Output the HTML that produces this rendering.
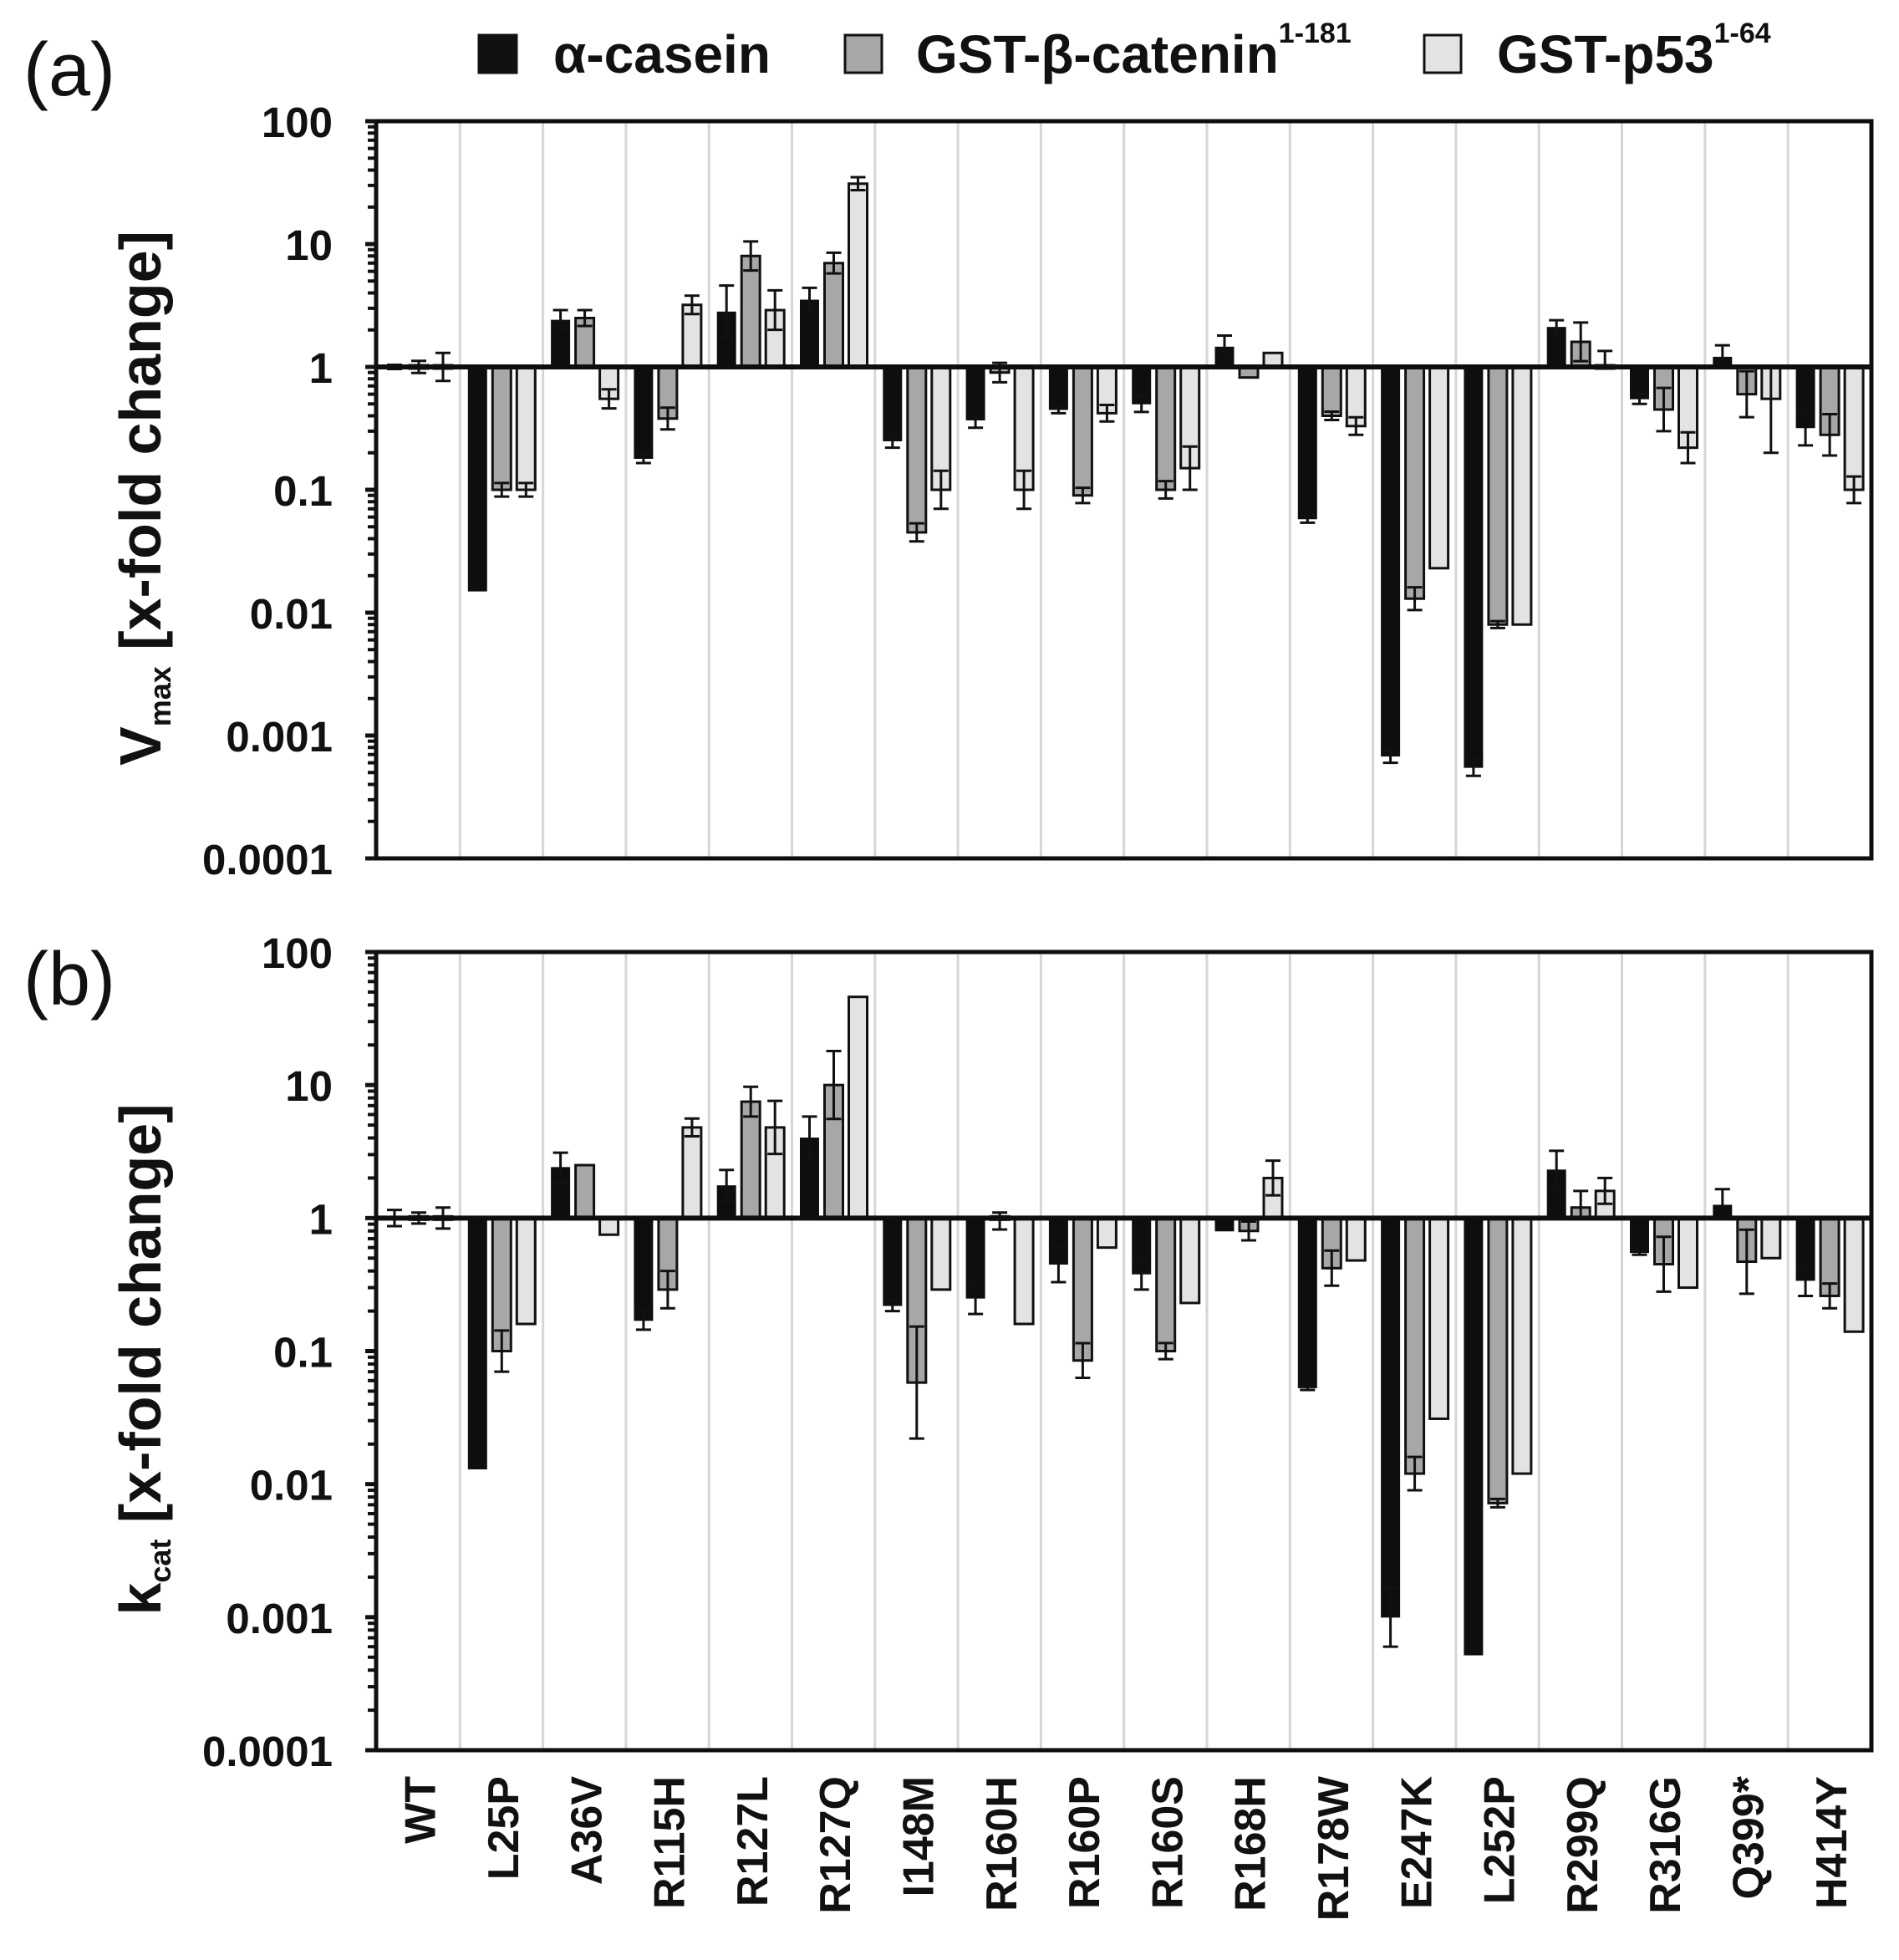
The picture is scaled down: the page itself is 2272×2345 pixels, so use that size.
<!DOCTYPE html>
<html><head><meta charset="utf-8"><style>
html,body{margin:0;padding:0;background:#fff;}
svg{display:block;font-family:"Liberation Sans",Arial,sans-serif;}
</style></head><body>
<svg id="fig" width="2272" height="2345" viewBox="0 0 2272 2345" xmlns="http://www.w3.org/2000/svg">
<g id="legend">
  <g>
    <rect x="573" y="42" width="45" height="45" fill="#111" stroke="#111" stroke-width="3"/>
    <text x="662" y="87" font-size="64" font-weight="bold" fill="#111">α-casein</text>
  </g>
  <g>
    <rect x="1011" y="42" width="44" height="45" fill="#a5a7a9" stroke="#111" stroke-width="3"/>
    <text x="1096" y="87" font-size="64" font-weight="bold" fill="#111">GST-β-catenin<tspan font-size="34" dy="-36">1-181</tspan></text>
  </g>
  <g>
    <rect x="1704" y="42" width="44" height="45" fill="#e2e3e5" stroke="#111" stroke-width="3"/>
    <text x="1791" y="87" font-size="64" font-weight="bold" fill="#111">GST-p53<tspan font-size="34" dy="-36">1-64</tspan></text>
  </g>
</g>
<g id="panelA"></g>
<g id="panelB"></g>
<g id="xlabels"></g>
</svg>
<script>
const categories = ["WT","L25P","A36V","R115H","R127L","R127Q","I148M","R160H","R160P","R160S","R168H","R178W","E247K","L252P","R299Q","R316G","Q399*","H414Y"];
const seriesNames = ["casein","catenin","p53"];
// Panel (a) Vmax values
const vmaxCasein  = [1,0.015,2.4,0.18,2.8,3.5,0.25,0.37,0.45,0.5,1.45,0.058,0.00068,0.00055,2.1,0.55,1.2,0.32];
const vmaxCatenin = [1,0.1,2.5,0.38,8,7,0.045,0.9,0.09,0.1,0.82,0.4,0.013,0.008,1.6,0.45,0.6,0.28];
const vmaxP53     = [1,0.1,0.55,3.2,2.9,31,0.1,0.1,0.42,0.15,1.3,0.33,0.023,0.008,1.05,0.22,0.55,0.1];
const vmaxCaseinErr  = [1.04,0.015,2.9,0.165,4.6,4.4,0.22,0.32,0.42,0.43,1.8,0.054,0.0006,0.00047,2.4,0.5,1.5,0.23];
const vmaxCateninErr = [1.12,0.088,2.9,0.31,10.5,8.5,0.038,1.08,0.078,0.085,0.82,0.37,0.0105,0.0075,2.3,0.3,0.39,0.19];
const vmaxP53Err     = [1.3,0.088,0.46,3.8,4.2,35,0.07,0.07,0.36,0.1,1.3,0.28,0.023,0.008,1.35,0.165,0.2,0.078];
// Panel (b) kcat values
const kcatCasein  = [1,0.013,2.4,0.17,1.75,4.0,0.22,0.25,0.45,0.38,0.8,0.053,0.001,0.00052,2.3,0.55,1.25,0.34];
const kcatCatenin = [1,0.1,2.5,0.29,7.5,10,0.058,0.95,0.085,0.1,0.8,0.42,0.012,0.0072,1.2,0.45,0.47,0.26];
const kcatP53     = [1,0.16,0.75,4.8,4.8,46,0.29,0.16,0.6,0.23,2.0,0.48,0.031,0.012,1.6,0.3,0.5,0.14];
const kcatCaseinErr  = [1.15,0.013,3.1,0.145,2.3,5.8,0.2,0.19,0.33,0.29,0.8,0.051,0.0006,0.00052,3.2,0.53,1.65,0.26];
const kcatCateninErr = [1.1,0.07,2.5,0.21,9.7,18,0.022,1.1,0.063,0.087,0.68,0.31,0.009,0.0067,1.6,0.28,0.27,0.21];
const kcatP53Err     = [1.2,0.16,0.75,5.6,7.6,46,0.29,0.16,0.6,0.23,2.7,0.48,0.031,0.012,2.0,0.3,0.5,0.14];
const yTickLabels = ["100","10","1","0.1","0.01","0.001","0.0001"];
const yTickValues = [100,10,1,0.1,0.01,0.001,0.0001];

const NS = "http://www.w3.org/2000/svg";
const fills = ["#0c0e10","#a5a7a9","#e2e3e5"];
const X0 = 451, GW = 99.3, BW = 22, OFF = [10,39,68], XR = 2239;
function el(tag, attrs, parent){const e=document.createElementNS(NS,tag);for(const k in attrs)e.setAttribute(k,attrs[k]);parent.appendChild(e);return e;}
function xBar(i,s){return X0 + i*GW + OFF[s];}

function drawPanel(g, top, bottom, vals, errs, label, titleMain, titleSub, labelY){
  const dec = (bottom-top)/6;
  const y1 = top + 2*dec;
  const yS = v => y1 - Math.log10(v)*dec;
  for(let i=1;i<categories.length;i++){
    const gl = el('line',{x1:X0+i*GW,x2:X0+i*GW,y1:top,y2:bottom,stroke:'#d4d6d9','stroke-width':3},g);
    
    
  }
  for(let s=0;s<3;s++){
    for(let i=0;i<categories.length;i++){
      const v = vals[s][i], e = errs[s][i];
      const x = xBar(i,s), yv = yS(v), yb = y1;
      const yt = Math.min(yv,yb), h = Math.max(Math.abs(yv-yb),4);
      const r = el('rect',{x:x,y:(Math.abs(yv-yb)<4? y1-2:yt),width:BW,height:h,fill:fills[s],stroke:'#111','stroke-width':s===0?1:3},g);
      
      
      if(Math.abs(Math.log10(e)-Math.log10(v))>0.005){
        let e2 = v*v/e;
        if(v<1 && e2>1 && i>0) e2 = 1;
        if(v>1 && e2<1 && i>0) e2 = 1;
        const ye = yS(e), ye2 = yS(e2), cx = x+BW/2;
        const eb = el('g',{stroke:'#111','stroke-width':3},g);
        
        
        el('line',{x1:cx,x2:cx,y1:ye,y2:ye2},eb);
        el('line',{x1:cx-9,x2:cx+9,y1:ye,y2:ye},eb);
        el('line',{x1:cx-9,x2:cx+9,y1:ye2,y2:ye2},eb);
      }
    }
  }
  const bl = el('line',{x1:450,x2:XR,y1:y1,y2:y1,stroke:'#0c0e10','stroke-width':6},g);
  
  
  const fr = el('rect',{x:450,y:top,width:XR-450,height:bottom-top,fill:'none',stroke:'#0c0e10','stroke-width':5},g);
  
  
  for(let d=0;d<yTickValues.length;d++){
    const y = yS(yTickValues[d]);
    const tl = el('text',{x:398,y:y+19,'font-size':51,'font-weight':'bold','text-anchor':'end',fill:'#111'},g);
    tl.textContent = yTickLabels[d];
    
    
    el('line',{x1:437,x2:450,y1:y,y2:y,stroke:'#111','stroke-width':5},g);
    if(d<yTickValues.length-1){
      for(let m=2;m<10;m++){
        const ym = yS(yTickValues[d+1]*m);
        el('line',{x1:440,x2:450,y1:ym,y2:ym,stroke:'#111','stroke-width':4},g);
      }
    }
  }
  const pl = el('text',{x:28,y:labelY,'font-size':90,fill:'#111'},g);
  pl.textContent = label;
  
  
  const cy = (top+bottom)/2 + 10;
  const yt = el('text',{x:0,y:0,'font-size':70,'font-weight':'bold','text-anchor':'middle',fill:'#111',transform:`translate(192,${cy}) rotate(-90)`},g);
  
  
  const t1 = el('tspan',{},yt); t1.textContent = titleMain;
  const t2 = el('tspan',{'font-size':36,dy:12},yt); t2.textContent = titleSub;
  const t3 = el('tspan',{dy:-12},yt); t3.textContent = '  [x-fold change]';
}
drawPanel(document.getElementById('panelA'),145,1027,[vmaxCasein,vmaxCatenin,vmaxP53],[vmaxCaseinErr,vmaxCateninErr,vmaxP53Err],'(a)','V','max',114);
drawPanel(document.getElementById('panelB'),1139,2094,[kcatCasein,kcatCatenin,kcatP53],[kcatCaseinErr,kcatCateninErr,kcatP53Err],'(b)','k','cat',1202);

const xl = document.getElementById('xlabels');
categories.forEach((c,i)=>{
  const cx = X0 + i*GW + GW/2 + 20;
  const t = el('text',{x:0,y:0,'font-size':52,'font-weight':'bold','text-anchor':'end',fill:'#111',transform:`translate(${cx},2125) rotate(-90)`},xl);
  t.textContent = c;
  
  
});
</script>
</body></html>
